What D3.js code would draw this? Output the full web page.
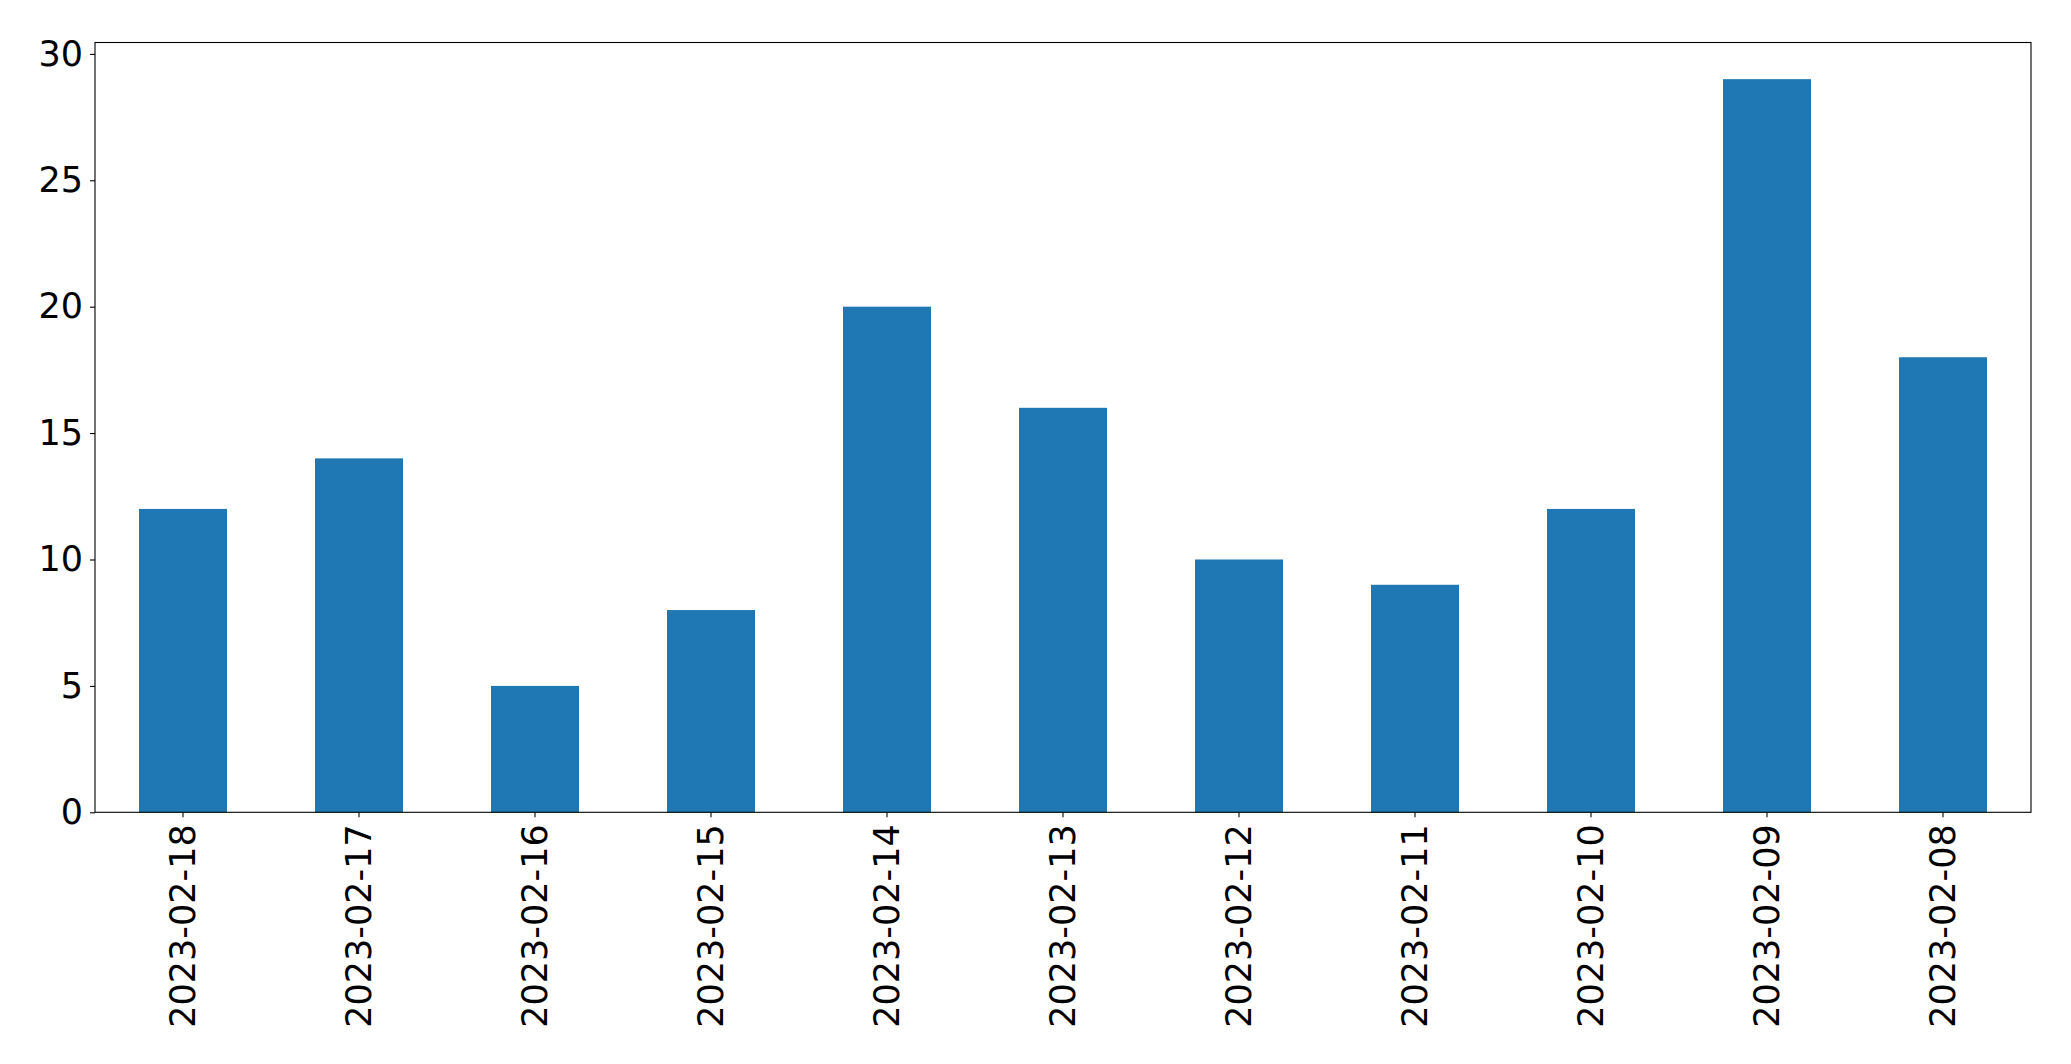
<!DOCTYPE html>
<html><head><meta charset="utf-8">
<script src="https://cdn.jsdelivr.net/npm/d3@7"></script>
<style>html,body{margin:0;padding:0;background:#fff;}svg{display:block;}</style>
</head><body>
<script>
const categories = ["2023-02-18","2023-02-17","2023-02-16","2023-02-15","2023-02-14","2023-02-13","2023-02-12","2023-02-11","2023-02-10","2023-02-09","2023-02-08"];
const values = [12,14,5,8,20,16,10,9,12,29,18];
const yTicks = [0,5,10,15,20,25,30];

const W = 2071, H = 1064;
const m = {left:95, right:2071-2031, top:42.5, bottom:H-812.3};
const svg = d3.select("body").append("svg").attr("width",W).attr("height",H);
const x = d3.scaleBand().domain(categories).range([m.left, W-m.right]).paddingInner(0.5).paddingOuter(0.25);
const ymax = d3.max(values)*1.05;
const y = d3.scaleLinear().domain([0, ymax]).range([H-m.bottom, m.top]);

svg.append("g").selectAll("rect").data(values).join("rect")
  .attr("x",(d,i)=>x(categories[i])).attr("width",x.bandwidth())
  .attr("y",d=>y(d)).attr("height",d=>y(0)-y(d)).attr("fill","#1f77b4");

const font = "DejaVu Sans";
const yAxis = svg.append("g").attr("transform",`translate(${m.left},0)`)
  .call(d3.axisLeft(y).tickValues(yTicks).tickSize(5).tickPadding(7).tickFormat(d3.format("d")));
yAxis.select(".domain").remove();
yAxis.selectAll("text").attr("font-family",font).attr("font-size",35).attr("fill","#000");
yAxis.selectAll("line").attr("stroke","#000").attr("stroke-width",1.1);

const xAxis = svg.append("g").attr("transform",`translate(0,${H-m.bottom})`)
  .call(d3.axisBottom(x).tickSize(5).tickPadding(7));
xAxis.select(".domain").remove();
xAxis.selectAll("line").attr("stroke","#000").attr("stroke-width",1.1);
xAxis.selectAll("text").attr("font-family",font).attr("font-size",35).attr("fill","#000")
  .attr("transform","rotate(-90)").attr("text-anchor","end")
  .attr("x",-12).attr("y",0).attr("dy","0.35em");

svg.append("rect").attr("x",m.left).attr("y",m.top)
  .attr("width",W-m.right-m.left).attr("height",H-m.bottom-m.top)
  .attr("fill","none").attr("stroke","#000").attr("stroke-width",1.1);
</script>
</body></html>
